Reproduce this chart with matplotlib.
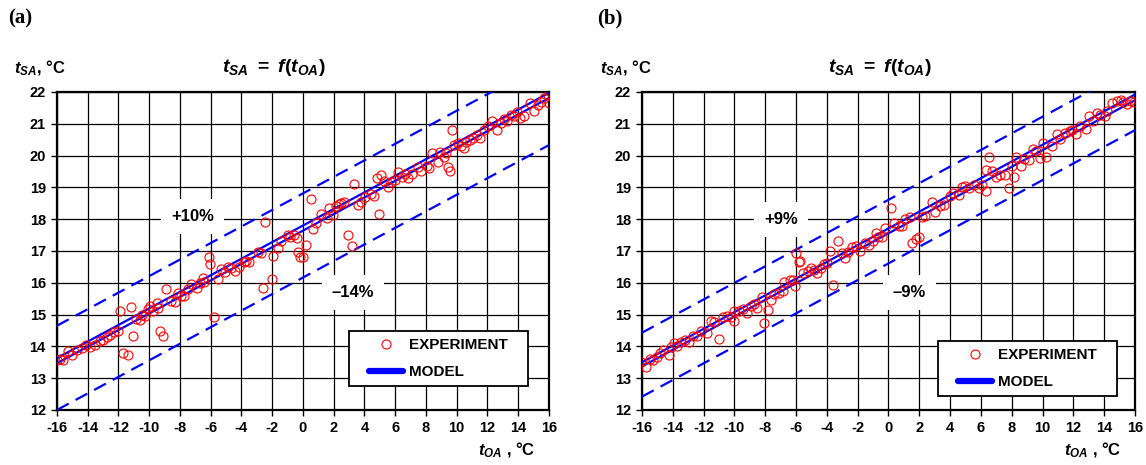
import matplotlib
matplotlib.use("Agg")
import matplotlib.pyplot as plt
from matplotlib.patches import Rectangle
from matplotlib.lines import Line2D

plt.rcParams['font.family'] = ['Liberation Sans', 'DejaVu Sans']
plt.rcParams['mathtext.fontset'] = 'custom'
plt.rcParams['mathtext.rm'] = 'Liberation Sans:bold'
plt.rcParams['mathtext.it'] = 'Liberation Sans:bold:italic'
plt.rcParams['mathtext.bf'] = 'Liberation Sans:bold'

### DATA - panel (a)
a_exp_x = [-16.0, -15.8, -15.6, -15.25, -15.0, -14.7, -14.4, -14.1, -13.85, -13.5, -13.2, -13.0,
           -12.75, -12.55, -12.3, -12.05, -11.9, -11.7, -11.4, -11.2, -11.05, -10.85, -10.6, -10.5,
           -10.25, -10.05, -9.95, -9.75, -9.5, -9.4, -9.3, -9.1, -8.9, -8.6, -8.3, -8.15, -7.9,
           -7.75, -7.45, -7.25, -6.9, -6.7, -6.5, -6.45, -6.13, -6.05, -5.8, -5.5, -5.3, -5.05,
           -4.85, -4.65, -4.4, -4.15, -3.85, -3.7, -3.5, -2.9, -2.7, -2.6, -2.5, -2.0, -1.95,
           -1.6, -1.4, -1.0, -0.83, -0.6, -0.4, -0.3, -0.2, 0.0, 0.2, 0.5, 0.63, 0.85, 1.2, 1.55,
           1.72, 1.95, 2.15, 2.37, 2.5, 2.65, 2.95, 3.17, 3.35, 3.6, 3.8, 4.05, 4.4, 4.6, 4.8,
           4.95, 5.05, 5.3, 5.55, 5.75, 6.0, 6.2, 6.45, 6.65, 6.85, 7.1, 7.5, 7.7, 8.05, 8.2, 8.4,
           8.8, 8.9, 9.15, 9.3, 9.45, 9.55, 9.7, 9.85, 10.1, 10.3, 10.45, 10.6, 10.85, 11.05,
           11.3, 11.5, 11.75, 12.05, 12.3, 12.65, 12.85, 13.05, 13.3, 13.55, 13.7, 13.95, 14.15,
           14.4, 14.75, 15.0, 15.3, 15.5, 15.7, 15.95, 16.0]
a_exp_y = [13.58, 13.6, 13.57, 13.84, 13.74, 13.9, 13.95, 14.05, 13.98, 14.05, 14.16, 14.2,
           14.3, 14.37, 14.44, 14.47, 15.1, 13.8, 13.74, 15.23, 14.34, 14.87, 14.83, 15.0,
           14.97, 15.16, 15.26, 15.1, 15.37, 15.2, 14.47, 14.32, 15.81, 15.42, 15.39, 15.68, 15.6,
           15.58, 15.79, 15.95, 15.84, 15.98, 16.16, 16.02, 16.82, 16.6, 14.93, 16.13, 16.42, 16.34,
           16.5, 16.45, 16.37, 16.5, 16.66, 16.68, 16.66, 16.98, 16.93, 15.84, 17.92, 16.13, 16.84,
           17.08, 17.3, 17.5, 17.45, 17.5, 17.4, 16.98, 16.82, 16.82, 17.19, 18.62, 17.7, 17.87,
           18.15, 18.03, 18.34, 18.13, 18.42, 18.48, 18.5, 18.53, 17.5, 17.17, 19.1, 18.45, 18.55,
           18.7, 18.78, 18.72, 19.28, 18.15, 19.38, 19.2, 19.02, 19.18, 19.23, 19.49, 19.33, 19.41,
           19.3, 19.43, 19.64, 19.53, 19.66, 19.62, 20.08, 19.8, 20.1, 19.96, 20.08, 19.64, 19.5,
           20.8, 20.34, 20.39, 20.3, 20.24, 20.44, 20.5, 20.55, 20.65, 20.55, 20.82, 20.92, 21.08,
           20.8, 21.03, 21.14, 21.08, 21.29, 21.24, 21.37, 21.18, 21.24, 21.64, 21.4, 21.6, 21.7,
           21.81, 21.92, 21.64]
a_model_x = [-16, 16]
a_model_y1 = [13.63, 21.97]
a_model_y2 = [13.47, 21.81]
a_upper_y = [14.65, 22.97]
a_lower_y = [12.0, 20.33]

### DATA - panel (b)
b_exp_x = [-16.05, -15.75, -15.5, -15.3, -15.05, -14.85, -14.65, -14.25, -14.1, -13.95, -13.7,
           -13.5, -13.2, -12.95, -12.7, -12.4, -12.15, -11.8, -11.55, -11.3, -11.0, -10.75, -10.5,
           -10.25, -10.0, -10.0, -9.7, -9.45, -9.2, -8.95, -8.75, -8.55, -8.2, -8.05, -7.8, -7.6,
           -7.4, -7.1, -6.85, -6.75, -6.4, -6.2, -6.1, -6.0, -5.8, -5.75, -5.55, -5.25, -5.05,
           -4.85, -4.65, -4.4, -4.2, -4.0, -3.8, -3.6, -3.3, -3.05, -2.85, -2.6, -2.35, -2.1,
           -1.85, -1.55, -1.25, -1.0, -0.8, -0.65, -0.45, -0.2, 0.15, 0.35, 0.65, 0.85, 1.1, 1.4,
           1.55, 1.8, 1.95, 2.2, 2.35, 2.8, 3.05, 3.35, 3.6, 4.0, 4.2, 4.55, 4.75, 4.95, 5.25,
           5.55, 5.85, 6.1, 6.3, 6.35, 6.55, 6.75, 6.98, 7.25, 7.55, 7.8, 8.0, 8.15, 8.3, 8.6,
           8.8, 9.1, 9.4, 9.6, 9.85, 10.05, 10.25, 10.6, 10.95, 11.15, 11.45, 11.75, 11.9, 12.2,
           12.45, 12.8, 13.0, 13.3, 13.55, 13.75, 14.05, 14.2, 14.5, 14.8, 15.1, 15.25, 15.5,
           15.7, 15.95]
b_exp_y = [13.5, 13.34, 13.6, 13.56, 13.68, 13.79, 13.9, 13.74, 13.98, 14.1, 14.0,
           14.13, 14.19, 14.13, 14.32, 14.32, 14.47, 14.42, 14.79, 14.76, 14.24, 14.93, 14.97,
           14.93, 15.1, 14.81, 15.1, 15.18, 15.05, 15.26, 15.32, 15.21, 15.56, 14.74, 15.14, 15.47,
           15.66, 15.68, 15.74, 16.02, 16.1, 16.08, 15.9, 16.95, 16.66, 16.68, 16.32, 16.37, 16.47,
           16.4, 16.32, 16.47, 16.58, 16.63, 17.0, 15.92, 17.3, 16.93, 16.77, 16.98, 17.14, 17.16,
           17.01, 17.26, 17.19, 17.32, 17.56, 17.45, 17.45, 17.72, 18.35, 17.87, 17.79, 17.77, 18.0, 18.06,
           17.26, 17.37, 17.43, 18.06, 18.1, 18.53, 18.24, 18.42, 18.45, 18.73, 18.83, 18.76, 19.02, 19.04, 18.97,
           19.07, 18.97, 19.07, 19.56, 18.9, 19.95, 19.52, 19.34, 19.39, 19.39, 18.97, 19.67, 19.32, 19.95, 19.67,
           19.88, 19.86, 20.2, 20.13, 19.92, 20.38, 19.95, 20.29, 20.69, 20.52, 20.71, 20.76, 20.81, 20.69,
           20.94, 20.83, 21.24, 21.08, 21.34, 21.29, 21.24, 21.39, 21.65, 21.71, 21.76, 21.67, 21.63,
           21.73, 21.7]
b_model_x = [-16, 16]
b_model_y1 = [13.5, 21.92]
b_model_y2 = [13.37, 21.74]
b_upper_y = [14.43, 22.79]
b_lower_y = [12.42, 20.8]

x_ticks = list(range(-16, 17, 2))
y_ticks = list(range(12, 23))

fig = plt.figure(figsize=(11.46, 4.65), dpi=100)
ax_a = fig.add_axes([0.0497, 0.1183, 0.4293, 0.6839])
ax_b = fig.add_axes([0.5602, 0.1183, 0.4302, 0.6839])


def draw_panel(ax, mx, ex, ey, my1, my2, up, lo, lbl_up, lbl_lo, pos_up, pos_lo, leg_box):
    ax.set_xlim(-16, 16)
    ax.set_ylim(12, 22)
    ax.set_xticks(x_ticks)
    ax.set_yticks(y_ticks)
    ax.set_xticklabels([str(t) for t in x_ticks], fontweight='bold', fontsize=10.5)
    ax.set_yticklabels([str(t) for t in y_ticks], fontweight='bold', fontsize=10.5)
    ax.tick_params(direction='out', length=4, width=1, pad=4)
    ax.grid(True, color='black', lw=0.9, zorder=0)
    ax.set_axisbelow(True)
    for s in ax.spines.values():
        s.set_linewidth(1.6)

    ax.plot(mx, up, color='#0000ff', lw=1.6, ls=(0, (6, 3.5)), zorder=3)
    ax.plot(mx, lo, color='#0000ff', lw=1.6, ls=(0, (6, 3.5)), zorder=3)
    ax.plot(mx, my1, color='#0000ff', lw=1.6, zorder=3)
    ax.plot(mx, my2, color='#0000ff', lw=1.6, zorder=3)
    ax.plot(ex, ey, ls='none', marker='o', ms=6.5, mfc='none', mec='red', mew=0.8, zorder=4)

    box = dict(boxstyle='square,pad=0.6', fc='white', ec='none')
    ax.text(pos_up[0], pos_up[1], lbl_up, fontsize=12, fontweight='bold', ha='center',
            va='center', bbox=box, zorder=5)
    ax.text(pos_lo[0], pos_lo[1], lbl_lo, fontsize=12, fontweight='bold', ha='center',
            va='center', bbox=box, zorder=5)

    # legend frame
    ax.add_patch(Rectangle((leg_box[0], leg_box[1]), leg_box[2], leg_box[3], transform=ax.transAxes,
                           fc='white', ec='black', lw=1.3, zorder=6))
    handles = [Line2D([], [], ls='none', marker='o', ms=6.5, mfc='none', mec='red', mew=0.8),
               Line2D([], [], color='#0000ff', lw=4.5, solid_capstyle='round')]
    leg = ax.legend(handles, ['EXPERIMENT', 'MODEL'], loc='center',
                    bbox_to_anchor=(leg_box[0] + leg_box[2] / 2, leg_box[1] + leg_box[3] / 2),
                    frameon=False, prop=dict(weight='bold', size=11), handlelength=2.2,
                    handletextpad=0.4, labelspacing=0.85, borderpad=0.2)
    leg.set_zorder(7)


draw_panel(ax_a, a_model_x, a_exp_x, a_exp_y, a_model_y1, a_model_y2, a_upper_y, a_lower_y,
           '+10%', '\u201314%', (-7.2, 18.07), (3.25, 15.7), (0.593, 0.075, 0.364, 0.173))
draw_panel(ax_b, b_model_x, b_exp_x, b_exp_y, b_model_y1, b_model_y2, b_upper_y, b_lower_y,
           '+9%', '\u20139%', (-6.97, 18.0), (1.34, 15.68), (0.600, 0.044, 0.363, 0.173))

# titles and labels
for name, cx, px, yl, xl in [('(a)', 274, 8, 14, 535), ('(b)', 880, 597, 600, 1121)]:
    fig.text(cx / 1146, 1 - 68 / 465, r'$t_{SA}\ =\ f(t_{OA})$', fontsize=14, ha='center',
             va='center')
    fig.text(px / 1146, 1 - 18 / 465, name, family='Liberation Serif',
             fontweight='bold', fontsize=15, ha='left', va='center')
    fig.text(yl / 1146, 1 - 68 / 465, r'$t_{SA}$, °C', fontsize=12, fontweight='bold',
             ha='left', va='center')
    fig.text(xl / 1146, 1 - 450 / 465, r'$t_{OA}$ , °C', fontsize=12, fontweight='bold',
             ha='right', va='center')

fig.savefig('out.png', dpi=100)
